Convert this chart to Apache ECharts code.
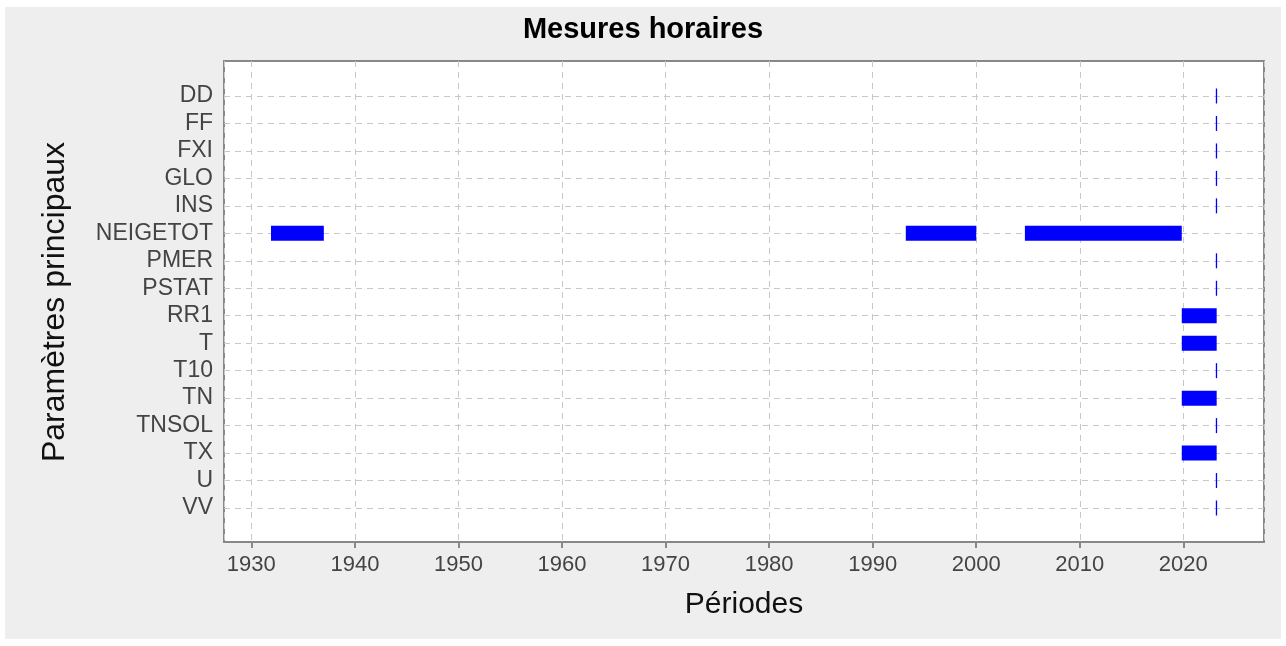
<!DOCTYPE html>
<html>
<head>
<meta charset="utf-8">
<script src="https://cdn.jsdelivr.net/npm/echarts@6/dist/echarts.min.js"></script>
<style>
html,body{margin:0;padding:0;background:#ffffff;}
#chart{position:absolute;left:5px;top:7px;width:1276px;height:632px;}
</style>
</head>
<body>
<div id="chart"></div>
<script>
// Categories (parameters), top to bottom
const categories = ['DD','FF','FXI','GLO','INS','NEIGETOT','PMER','PSTAT','RR1','T','T10','TN','TNSOL','TX','U','VV'];
// Measurement periods: parameter, start year (decimal), end year (decimal)
const periodParam = ['DD','FF','FXI','GLO','INS','NEIGETOT','NEIGETOT','NEIGETOT','PMER','PSTAT','RR1','T','T10','TN','TNSOL','TX','U','VV'];
const periodStart = [2023.18,2023.18,2023.18,2023.18,2023.18,1931.9,1993.2,2004.7,2023.18,2023.18,2019.85,2019.85,2023.18,2019.85,2023.18,2019.85,2023.18,2023.18];
const periodEnd   = [2023.22,2023.22,2023.22,2023.22,2023.22,1937.0,2000.0,2019.85,2023.22,2023.22,2023.22,2023.22,2023.22,2023.22,2023.22,2023.22,2023.22,2023.22];
const xMin = 1927.36, xMax = 2027.79;

const data = periodParam.map((p, i) => [periodStart[i], periodEnd[i], p]);

const FONT = "'Liberation Sans', Arial, sans-serif";
const chart = echarts.init(document.getElementById('chart'));
chart.setOption({
  backgroundColor: '#EEEEEE',
  animation: false,
  title: {
    text: 'Mesures horaires',
    left: 'center', top: 8, padding: 0,
    textStyle: {fontFamily: FONT, fontWeight: 'bold', fontSize: 29, color: '#000'}
  },
  grid: [
    {left: 219, right: 17, top: 89, bottom: 131, show: false},
    {left: 219, right: 17, top: 54, bottom: 97, show: true, backgroundColor: '#FFFFFF', borderColor: '#888888', borderWidth: 2}
  ],
  xAxis: [
    {gridIndex: 0, type: 'value', min: xMin, max: xMax, show: false},
    {gridIndex: 1, type: 'value', min: xMin, max: xMax, splitNumber: 10,
     name: 'Périodes', nameLocation: 'middle', nameGap: 48,
     nameTextStyle: {fontFamily: FONT, fontSize: 30, color: '#111'},
     axisLine: {show: false},
     axisTick: {show: true, length: 6, lineStyle: {color: '#888', width: 2}},
     axisLabel: {showMinLabel: false, showMaxLabel: false, margin: 12, fontFamily: FONT, fontSize: 22, color: '#444',
                 formatter: v => String(Math.round(v))},
     splitLine: {show: true, lineStyle: {color: '#C8C8C8', type: [6, 5], width: 1}}
    }
  ],
  yAxis: [
    {gridIndex: 0, type: 'category', data: categories, inverse: true, boundaryGap: false,
     name: 'Paramètres principaux', nameLocation: 'middle', nameGap: 153, nameRotate: 90,
     nameTextStyle: {fontFamily: FONT, fontSize: 32, color: '#111'},
     axisLine: {show: false}, axisTick: {show: false},
     axisLabel: {interval: 0, margin: 11, fontFamily: FONT, fontSize: 23, color: '#444'},
     splitLine: {show: true, interval: 0, lineStyle: {color: '#C8C8C8', type: [6, 5], width: 1}}
    },
    {gridIndex: 1, type: 'value', show: false, min: 0, max: 1, splitLine: {show: false}}
  ],
  series: [{
    type: 'custom',
    xAxisIndex: 0, yAxisIndex: 0,
    data: data,
    encode: {x: [0, 1], y: 2},
    renderItem: function (params, api) {
      const cat = api.value(2);
      const a = api.coord([api.value(0), cat]);
      const b = api.coord([api.value(1), cat]);
      const h = 15;
      let w = b[0] - a[0];
      let x = a[0];
      if (w < 1.3) { x = (a[0] + b[0]) / 2 - 0.65; w = 1.3; }
      return {type: 'rect', shape: {x: x, y: a[1] - h / 2, width: w, height: h},
              style: {fill: '#0000FF'}};
    }
  }]
});
</script>
</body>
</html>
